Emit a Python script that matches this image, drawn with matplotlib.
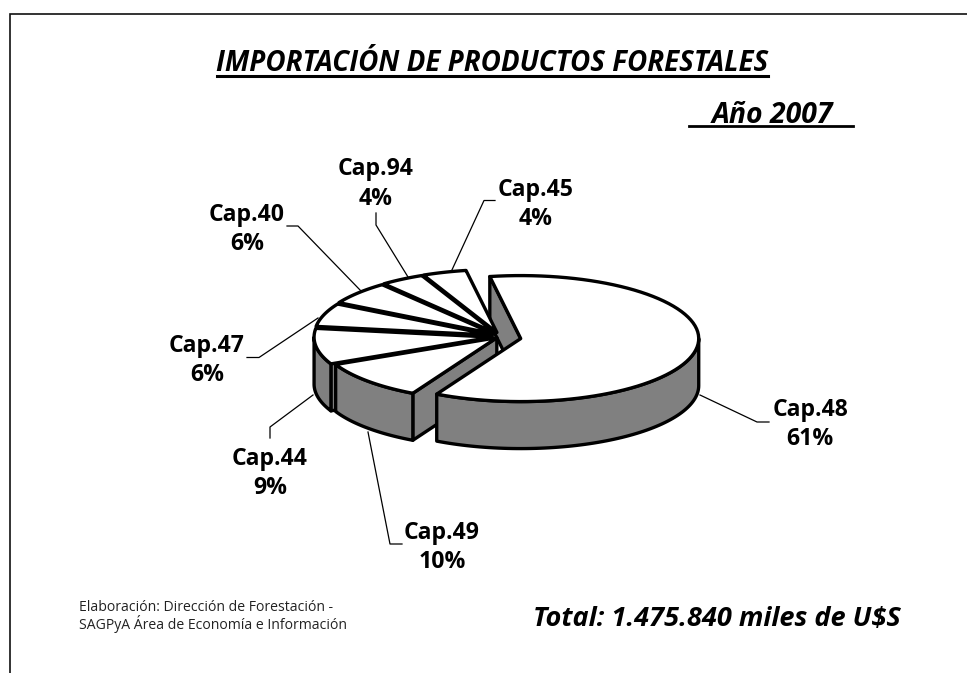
import numpy as np
import matplotlib
matplotlib.use("Agg")
import matplotlib.pyplot as plt
from matplotlib.patches import Polygon

categories = ["Cap.48", "Cap.45", "Cap.94", "Cap.40", "Cap.47", "Cap.44", "Cap.49"]
shares = [60.6, 4.0, 4.0, 6.0, 6.0, 9.2, 10.2]
explode_px = [22, 7, 7, 7, 7, 7, 3]
title = "IMPORTACIÓN DE PRODUCTOS FORESTALES"
year_label = "Año 2007"
total_label = "Total: 1.475.840 miles de U$S"
credit_label = "Elaboración: Dirección de Forestación -\nSAGPyA Área de Economía e Información"

W, H = 967, 673
CX, CY, RX, RY, DEPTH = 499, 336.5, 178, 63, 47
START = 100.0
GRAY = "#808080"
FONT = ["Open Sans", "DejaVu Sans"]

fig = plt.figure(figsize=(W / 100, H / 100), dpi=100)
ax = fig.add_axes([0, 0, 1, 1])
ax.set_xlim(0, W)
ax.set_ylim(H, 0)
ax.axis("off")

# frame
ax.plot([10, 10, W], [H, 13.5, 13.5], color="#111111", lw=1.2, solid_joinstyle="miter")

# angle ranges: Cap.48 runs clockwise from START, the others counter-clockwise
total = sum(shares)
spans = {}
a = START
spans[categories[0]] = (START - 360 * shares[0] / total, START)
for c, s in zip(categories[1:], shares[1:]):
    spans[c] = (a, a + 360 * s / total)
    a += 360 * s / total


def apex(c):
    lo, hi = spans[c]
    m = np.radians((lo + hi) / 2)
    e = explode_px[categories.index(c)]
    return CX + e * np.cos(m), CY - 0.6 * e * np.sin(m)


def rim(c, lo, hi, n=80):
    ax0, ay0 = apex(c)
    t = np.radians(np.linspace(lo, hi, n))
    return np.column_stack([ax0 + RX * np.cos(t), ay0 - RY * np.sin(t)])


def poly(pts, fc, z, lw=2.4):
    ax.add_patch(Polygon(pts, closed=True, fc=fc, ec="black", lw=lw, joinstyle="round", zorder=z))


def down(pts):
    return pts + np.array([0, DEPTH])


def top(c, z):
    lo, hi = spans[c]
    poly(np.vstack([[apex(c)], rim(c, lo, hi)]), "white", z)


def outer_wall(c, z):
    lo, hi = spans[c]
    # visible part of the rim: lower half of the ellipse (180..360 deg)
    ranges = []
    for shift in (0, -360, 360):
        l, h = max(lo + shift, 180), min(hi + shift, 360)
        if h > l:
            ranges.append((l - shift, h - shift))
    for l, h in ranges:
        r = rim(c, l, h)
        poly(np.vstack([r, down(r)[::-1]]), GRAY, z)


def cut_face(c, angle, z):
    p = np.array([apex(c)])
    r = rim(c, angle, angle, 1)
    poly(np.vstack([p, r, down(r), down(p)]), GRAY, z)


main = categories[0]
z = 2
# far cut face of the pulled-out slice, behind the small slices
cut_face(main, spans[main][1], z)
for c in categories[1:]:
    z += 1
    lo, hi = spans[c]
    if hi > 180:
        cut_face(c, hi, z)
        z += 1
        outer_wall(c, z)
    z += 1
    top(c, z)
z += 1
outer_wall(main, z)
top(main, z + 1)

# title, subtitle and notes
ax.text(492.5, 63.5, title, ha="center", va="center", fontsize=20, fontweight="bold",
        style="italic", family=FONT, color="black")
ax.plot([217, 768], [76, 76], color="black", lw=2.2)
ax.text(772.5, 115.5, year_label, ha="center", va="center", fontsize=20.4, fontweight="bold",
        style="italic", family=FONT, color="black")
ax.plot([689, 853], [126, 126], color="black", lw=2.0)
ax.text(717, 618.5, total_label, ha="center", va="center", fontsize=19.5, fontweight="bold",
        style="italic", family=FONT, color="black")
ax.text(79, 616.5, credit_label, ha="left", va="center", fontsize=10.1, family=FONT,
        color="#222222", linespacing=1.0)

# slice labels
label_pos = {"Cap.48": (810, 424.5), "Cap.45": (536, 204.5), "Cap.94": (376, 184),
             "Cap.40": (247, 229.5), "Cap.47": (207, 360.5), "Cap.44": (270, 473.5),
             "Cap.49": (442, 547.5)}
leaders = {"Cap.48": [(769, 422), (757, 422), (700, 395)],
           "Cap.45": [(495, 200.5), (484, 200.5), (451, 272)],
           "Cap.94": [(376, 213), (376, 225), (408, 277)],
           "Cap.40": [(287, 226), (298, 226), (361, 291)],
           "Cap.47": [(247, 357.5), (259, 357.5), (318, 318)],
           "Cap.44": [(270, 438), (270, 427), (313, 395)],
           "Cap.49": [(402, 544), (390, 544), (368, 432)]}
for c, s in zip(categories, shares):
    x, y = label_pos[c]
    ax.text(x, y, f"{c}\n{round(s)}%", ha="center", va="center", fontsize=16.6, fontweight="bold",
            family=FONT, color="black", linespacing=1.3, zorder=30)
    pts = np.array(leaders[c])
    ax.plot(pts[:, 0], pts[:, 1], color="black", lw=0.9, zorder=1)

fig.savefig("out.png", dpi=100, facecolor="white")
